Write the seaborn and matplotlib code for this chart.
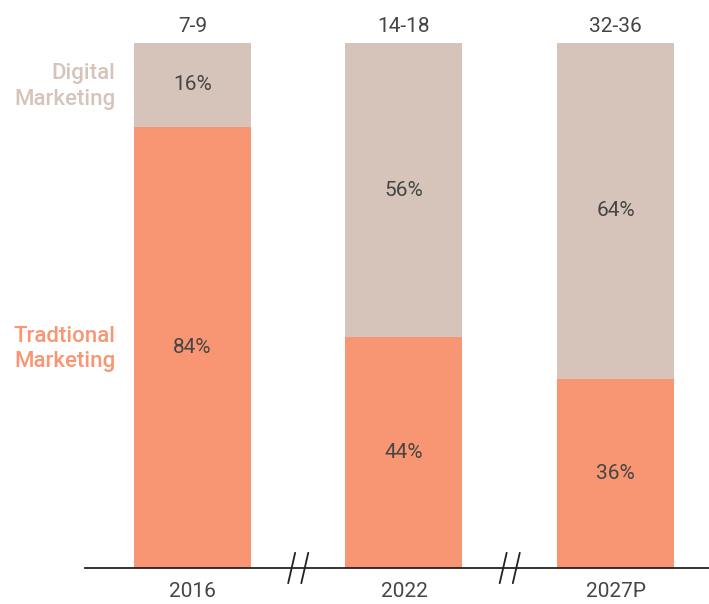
import matplotlib
matplotlib.use("Agg")
import matplotlib.pyplot as plt
import seaborn as sns
import pandas as pd

years = ["2016", "2022", "2027P"]
ranges = ["7-9", "14-18", "32-36"]
traditional = [84, 44, 36]
digital = [16, 56, 64]

ORANGE = "#F89673"
BEIGE = "#D6C4BA"
TXT = "#454545"
FS = 15

sns.set_theme(style="white")
plt.rcParams["font.family"] = ["Roboto", "DejaVu Sans"]

df = pd.DataFrame({"year": years, "trad": traditional, "dig": digital})
df["total"] = df["trad"] + df["dig"]

fig = plt.figure(figsize=(7.09, 6.04), dpi=100)
ax = fig.add_axes([85 / 709, 36 / 604, 624 / 709, 525 / 604])

sns.barplot(data=df, x="year", y="total", color=BEIGE, width=0.553, ax=ax,
            saturation=1, linewidth=0)
sns.barplot(data=df, x="year", y="trad", color=ORANGE, width=0.553, ax=ax,
            saturation=1, linewidth=0)

ax.set_xlim(-0.508, 2.442)
ax.set_ylim(0, 100)
ax.set_xlabel("")
ax.set_ylabel("")
ax.set_yticks([])
for s in ["top", "right", "left"]:
    ax.spines[s].set_visible(False)
ax.spines["bottom"].set_color("#222222")
ax.spines["bottom"].set_linewidth(1.3)
ax.tick_params(axis="x", length=0, pad=10, labelsize=FS, labelcolor=TXT)

for i in range(len(years)):
    t, d = traditional[i], digital[i]
    ax.text(i, t / 2, f"{t}%", ha="center", va="center", fontsize=FS, color=TXT)
    ax.text(i, t + d / 2, f"{d}%", ha="center", va="center", fontsize=FS, color=TXT)
    ax.text(i, 100 + 1.4, ranges[i], ha="center", va="bottom", fontsize=FS, color=TXT)

# axis break marks
for xb in [0.5, 1.5]:
    for dx in [-0.031, 0.031]:
        ax.plot([xb + dx - 0.0165, xb + dx + 0.0165], [-2.9, 2.9], color="#222222", lw=1.3,
                clip_on=False, zorder=5)

ax.text(-0.365, 100 - digital[0] / 2 - 0.3, "Digital\nMarketing", ha="right", va="center",
        fontsize=16, color=BEIGE, fontweight="medium", linespacing=1.3)
ax.text(-0.365, traditional[0] / 2 - 0.3, "Tradtional\nMarketing", ha="right", va="center",
        fontsize=16, color=ORANGE, fontweight="medium", linespacing=1.3)

fig.savefig("out.png", dpi=100)
